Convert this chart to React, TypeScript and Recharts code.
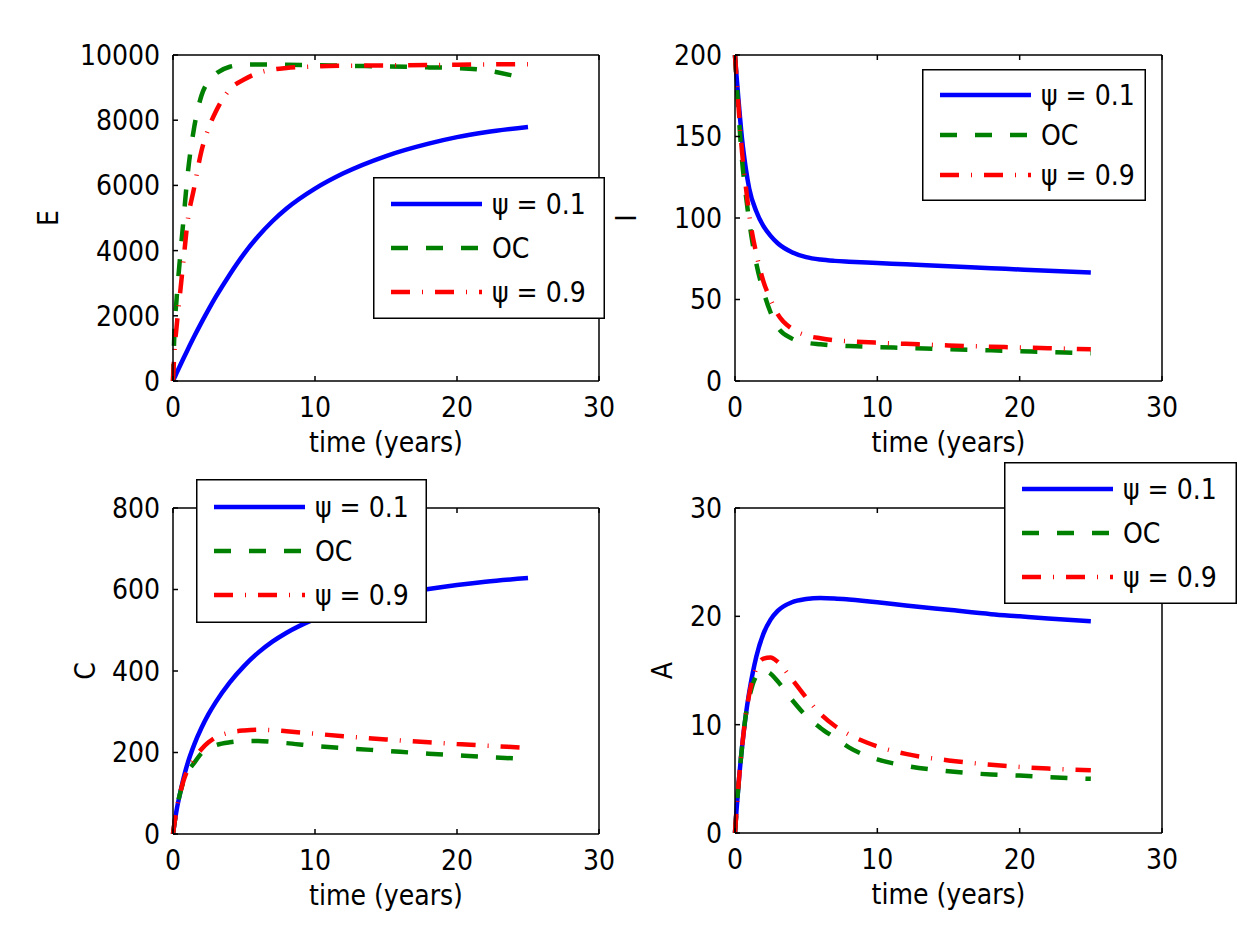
import { LineChart, Line, XAxis, YAxis, Legend } from "recharts";

const FONT = '"DejaVu Sans Condensed", "DejaVu Sans", sans-serif';
const W = 1247;
const H = 935;
const XH = 86; // height of the bottom axis band (tick labels + title)
const YW = 100;

// time (years) shared by every panel
const T = [0, 0.1, 0.25, 0.5, 0.75, 1, 1.5, 2, 2.5, 3, 4, 5, 6, 7, 8, 10, 12, 15, 18, 20, 22, 25];

// E
const E_PSI1 = [0, 95, 240, 475, 705, 930, 1370, 1790, 2190, 2570, 3270, 3900, 4440, 4900, 5290, 5900, 6370, 6900, 7280, 7480, 7630, 7790];
const E_OC = [0, 1500, 2500, 3800, 5000, 6200, 7800, 8750, 9200, 9420, 9640, 9700, 9710, 9710, 9700, 9690, 9670, 9650, 9620, 9600, 9530, 9250];
const E_PSI9 = [0, 900, 1650, 2700, 3750, 4800, 5950, 7050, 7750, 8250, 8950, 9250, 9450, 9550, 9600, 9650, 9670, 9680, 9690, 9700, 9710, 9720];

// I
const I_PSI1 = [200, 188, 172, 148, 131, 118, 104, 95, 89, 84.5, 79, 76, 74.5, 73.7, 73.2, 72.4, 71.6, 70.4, 69.2, 68.4, 67.6, 66.6];
const I_OC = [200, 185, 165, 135, 115, 98, 72, 55, 42, 33, 26, 23.5, 22.5, 21.8, 21.4, 20.8, 20.3, 19.5, 18.8, 18.3, 17.8, 17];
const I_PSI9 = [200, 187, 168, 140, 120, 102, 78, 61, 50, 41, 32, 28, 26.2, 25, 24.4, 23.5, 22.8, 21.8, 21, 20.6, 20.1, 19.5];

// C
const C_PSI1 = [0, 25, 58, 100, 138, 170, 220, 260, 294, 323, 372, 412, 445, 472, 494, 528, 554, 582, 601, 611, 619, 628];
const C_OC = [0, 25, 60, 100, 130, 150, 175, 198, 211, 218, 225, 228, 228, 226, 223, 216, 211, 204, 197, 193, 189, 184];
const C_PSI9 = [0, 25, 60, 100, 132, 155, 185, 208, 225, 237, 249, 254, 256, 255, 252, 246, 240, 232, 225, 221, 217, 211];

// A
const A_PSI1 = [0, 2, 4.5, 8, 10.8, 13, 16.3, 18.4, 19.7, 20.5, 21.3, 21.6, 21.7, 21.65, 21.55, 21.3, 21, 20.6, 20.2, 20, 19.8, 19.55];
const A_OC = [0, 2, 4.5, 8, 10.8, 12.5, 14.5, 15, 14.7, 14, 12.3, 10.8, 9.7, 8.8, 7.9, 6.8, 6.2, 5.7, 5.4, 5.3, 5.15, 5];
const A_PSI9 = [0, 2, 4.5, 8, 10.8, 12.8, 15.2, 16.1, 16.2, 15.8, 14.2, 12.5, 11, 9.9, 9.1, 8, 7.3, 6.7, 6.3, 6.1, 5.95, 5.8];

const X_TICKS = [0, 10, 20, 30];

const SERIES = [
  { key: "psi1", name: "ψ = 0.1", color: "#0000ff", dash: undefined as string | undefined },
  { key: "oc", name: "OC", color: "#008000", dash: "17 18" },
  { key: "psi9", name: "ψ = 0.9", color: "#ff0000", dash: "19 12 1 12" },
];

function rows(a: number[], b: number[], c: number[]) {
  return T.map((t, i) => ({ t, psi1: a[i], oc: b[i], psi9: c[i] }));
}

type Box = { x: number; y: number; w: number; h: number; row0: number; gap: number };

const PANELS = [
  {
    label: "E", data: rows(E_PSI1, E_OC, E_PSI9), yTicks: [0, 2000, 4000, 6000, 8000, 10000],
    left: 173, top: 55, right: 599, bottom: 381, labelX: 48,
    legend: { x: 373, y: 177, w: 232, h: 142, row0: 27, gap: 44 },
  },
  {
    label: "I", data: rows(I_PSI1, I_OC, I_PSI9), yTicks: [0, 50, 100, 150, 200],
    left: 735, top: 55, right: 1162, bottom: 381, labelX: 626,
    legend: { x: 922, y: 69, w: 224, h: 132, row0: 26, gap: 40 },
  },
  {
    label: "C", data: rows(C_PSI1, C_OC, C_PSI9), yTicks: [0, 200, 400, 600, 800],
    left: 173, top: 508, right: 599, bottom: 834, labelX: 85,
    legend: { x: 196, y: 479, w: 231, h: 144, row0: 28, gap: 44 },
  },
  {
    label: "A", data: rows(A_PSI1, A_OC, A_PSI9), yTicks: [0, 10, 20, 30],
    left: 735, top: 508, right: 1162, bottom: 833, labelX: 662,
    legend: { x: 1004, y: 462, w: 233, h: 142, row0: 27, gap: 44 },
  },
];

const tickStyle = { fontSize: 28, fill: "#000", fontFamily: FONT };
const noLabel = () => <g />;

function LegendBox({ payload, box }: { payload?: any[]; box: Box }) {
  // keep the plotting order (recharts sorts legend items by name)
  const items = SERIES.map((s) => ({ s, e: (payload ?? []).find((e) => e.dataKey === s.key) })).filter((x) => x.e);
  return (
    <svg width={box.w} height={box.h} style={{ display: "block" }}>
      <rect x={0.75} y={0.75} width={box.w - 1.5} height={box.h - 1.5} fill="#fff" stroke="#000" strokeWidth={1.5} />
      {items.map(({ s, e }, i) => {
        const y = box.row0 + i * box.gap;
        return (
          <g key={s.key}>
            <line x1={18} x2={109} y1={y} y2={y} stroke={s.color} strokeWidth={4.5} strokeDasharray={s.dash} />
            <text x={119} y={y} dy="0.36em" fontSize={28} fill="#000" fontFamily={FONT}>
              {e.value}
            </text>
          </g>
        );
      })}
    </svg>
  );
}

function Panel({ p }: { p: (typeof PANELS)[number] }) {
  const yMax = p.yTicks[p.yTicks.length - 1];
  const midY = (p.top + p.bottom) / 2;
  return (
    <div style={{ position: "absolute", left: 0, top: 0 }}>
      <LineChart
        width={W}
        height={H}
        data={p.data}
        margin={{ top: p.top - 1, left: p.left - YW, right: W - p.right - 1, bottom: H - p.bottom - XH }}
      >
        <XAxis
          xAxisId="b"
          dataKey="t"
          type="number"
          domain={[0, 30]}
          ticks={X_TICKS}
          interval={0}
          height={XH}
          stroke="#000"
          strokeWidth={1.5}
          tickSize={-5}
          tickMargin={21}
          tick={tickStyle}
          label={{ value: "time (years)", position: "insideBottom", offset: 15, fill: "#000", fontSize: 28, fontFamily: FONT }}
        />
        <XAxis
          xAxisId="t"
          orientation="top"
          dataKey="t"
          type="number"
          domain={[0, 30]}
          ticks={X_TICKS}
          interval={0}
          height={1}
          stroke="#000"
          strokeWidth={1.5}
          tickSize={-5}
          tick={noLabel}
        />
        <YAxis
          yAxisId="l"
          type="number"
          domain={[0, yMax]}
          ticks={p.yTicks}
          interval={0}
          width={YW}
          stroke="#000"
          strokeWidth={1.5}
          tickSize={-5}
          tickMargin={18}
          tick={tickStyle}
          label={{
            content: () => (
              <text
                x={p.labelX}
                y={midY}
                dy="0.36em"
                textAnchor="middle"
                fontSize={28}
                fill="#000"
                fontFamily={FONT}
                transform={`rotate(-90 ${p.labelX} ${midY})`}
              >
                {p.label}
              </text>
            ),
          }}
        />
        <YAxis
          yAxisId="r"
          orientation="right"
          type="number"
          domain={[0, yMax]}
          ticks={p.yTicks}
          interval={0}
          width={1}
          stroke="#000"
          strokeWidth={1.5}
          tickSize={-5}
          tick={noLabel}
        />
        {SERIES.map((s) => (
          <Line
            key={s.key}
            xAxisId="b"
            yAxisId="l"
            type="monotone"
            dataKey={s.key}
            name={s.name}
            stroke={s.color}
            strokeWidth={4.5}
            strokeDasharray={s.dash}
            dot={false}
            activeDot={false}
            isAnimationActive={false}
          />
        ))}
        <Legend
          layout="vertical"
          align="center"
          verticalAlign="middle"
          wrapperStyle={{ left: p.legend.x, top: p.legend.y, width: p.legend.w, height: p.legend.h, margin: 0, padding: 0 }}
          content={(props: any) => <LegendBox payload={props.payload} box={p.legend} />}
        />
      </LineChart>
    </div>
  );
}

export default function App() {
  return (
    <div style={{ position: "absolute", left: 0, top: 0, width: W, height: H, background: "#fff", fontFamily: FONT }}>
      {PANELS.map((p) => (
        <Panel key={p.label} p={p} />
      ))}
    </div>
  );
}
